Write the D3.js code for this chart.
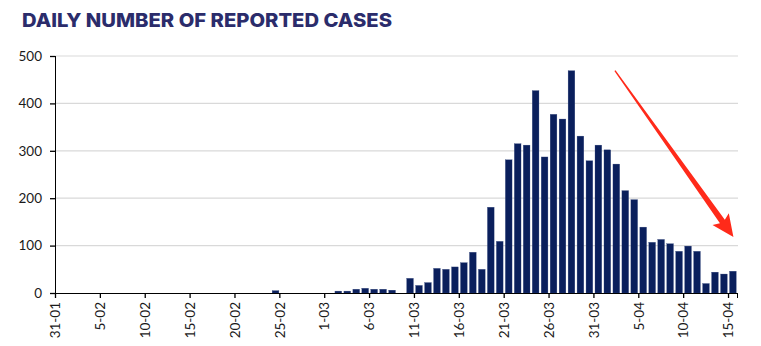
<!DOCTYPE html>
<html>
<head>
<meta charset="utf-8">
<script src="https://cdn.jsdelivr.net/npm/d3@7"></script>
<style>
  body{margin:0;background:#fff;}
  svg{display:block;}
</style>
</head>
<body>
<div id="chart"></div>
<script>
const barFill = "#0a1f5c";
const titleFill = "#2b2c6b";
const gridStroke = "#d9d9d9";
const labelFont = "Lato, 'Open Sans', sans-serif";

// one bar per day, 31 Jan -> 15 Apr
const days = d3.timeDay.range(new Date(2020, 0, 31), new Date(2020, 3, 16));
const cases = [
    0, 0, 0, 0, 0, 0, 0, 0, 0, 0,
    0, 0, 0, 0, 0, 0, 0, 0, 0, 0,
    0, 0, 0, 0, 5, 0, 0, 0, 0, 0,
    0, 4, 4, 8, 10, 8, 8, 6, 0, 31,
    16, 22, 52, 50, 55, 64, 86, 50, 181, 109,
    281, 315, 312, 427, 287, 377, 367, 469, 331, 279,
    312, 302, 272, 216, 197, 139, 107, 113, 104, 88,
    99, 88, 20, 44, 40, 46
];
const tickLabels = ["31-01", "5-02", "10-02", "15-02", "20-02", "25-02", "1-03", "6-03",
    "11-03", "16-03", "21-03", "26-03", "31-03", "5-04", "10-04", "15-04"];
const yTicks = [0, 100, 200, 300, 400, 500];

// trend arrow, in (day index, cases)
const arrowFrom = [62.4, 469];
const arrowTo = [75.6, 118];

const width = 761, height = 346;
const margin = {top: 56, right: 24, bottom: 53, left: 55};

const svg = d3.select("#chart").append("svg").attr("width", width).attr("height", height);

svg.append("text").attr("x", 22).attr("y", 27).text("DAILY NUMBER OF REPORTED CASES")
    .attr("fill", titleFill).attr("font-family", "Inter, sans-serif").attr("font-weight", 800)
    .attr("font-size", "19px").attr("textLength", 370).attr("lengthAdjust", "spacingAndGlyphs");

const xDay = d3.scaleLinear().domain([0, days.length]).range([margin.left, width - margin.right]);
const x = d3.scaleBand().domain(d3.range(days.length)).range(xDay.range()).paddingInner(0.25).paddingOuter(0.15);
const y = d3.scaleLinear().domain([0, 500]).range([height - margin.bottom, margin.top]);

const textAttr = (selection, fill, fontFamily, fontSize) => {
    selection.attr("fill", fill).attr("font-family", fontFamily).attr("font-size", fontSize);
}

// gridlines
svg.append("g").selectAll("line").data(yTicks.slice(1)).enter().append("line")
    .attr("x1", xDay(0)).attr("x2", xDay(days.length) + 1).attr("y1", d => y(d)).attr("y2", d => y(d))
    .attr("stroke", gridStroke).attr("stroke-width", 1.2);

svg.append("g").selectAll("rect").data(cases).enter().append("rect")
    .attr("x", (d, i) => x(i) + 0.6).attr("width", x.bandwidth())
    .attr("y", d => y(d)).attr("height", d => y(0) - y(d))
    .attr("fill", barFill).attr("stroke", "#3a4c80").attr("stroke-width", 0.3);

const yAxis = svg.append("g").attr("transform", `translate(${margin.left},0)`)
    .call(d3.axisLeft(y).tickValues(yTicks).tickSize(5).tickPadding(8));
yAxis.selectAll("text").call(textAttr, "#1a1a1a", labelFont, "13.5px");

const xAxis = svg.append("g").attr("transform", `translate(0,${y(0)})`)
    .call(d3.axisBottom(xDay).tickValues(d3.range(0, days.length, 5)).tickSize(5).tickFormat((d, i) => tickLabels[i]));
xAxis.selectAll("text").attr("transform", "rotate(-90)").attr("text-anchor", "end")
    .attr("x", -9).attr("y", 0).attr("dy", "0.35em").call(textAttr, "#1a1a1a", labelFont, "13.5px");

svg.selectAll(".domain, .tick line").attr("stroke", "#000").attr("stroke-width", 1.3);
svg.selectAll(".domain").attr("shape-rendering", "crispEdges");

// tapered red arrow
const [ax0, ay0] = [xDay(arrowFrom[0]), y(arrowFrom[1])];
const [ax1, ay1] = [xDay(arrowTo[0]), y(arrowTo[1])];
const len = Math.hypot(ax1 - ax0, ay1 - ay0);
const ang = Math.atan2(ay1 - ay0, ax1 - ax0) * 180 / Math.PI;
const head = 19;
svg.append("path")
    .attr("d", `M0,-0.7 L${len - head},-3 L${len - head - 3},-10 L${len},0 L${len - head - 3},10 L${len - head},3 L0,0.7 Z`)
    .attr("transform", `translate(${ax0},${ay0}) rotate(${ang})`)
    .attr("fill", "#ff2a1a");
</script>
</body>
</html>
